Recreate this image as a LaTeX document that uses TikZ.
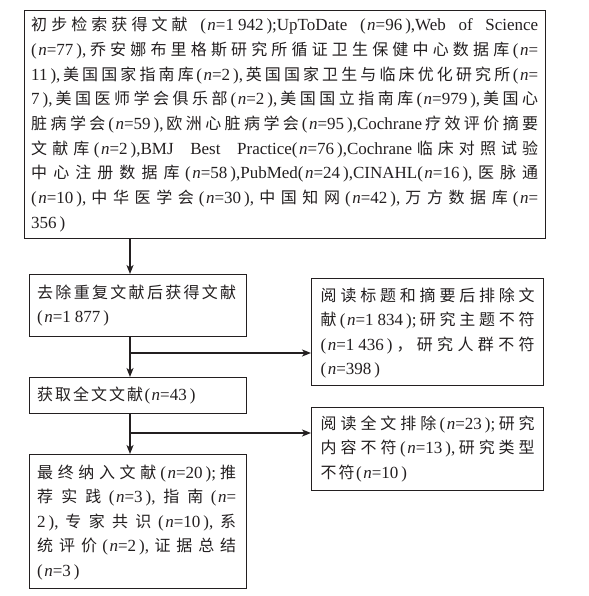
\documentclass[tikz,border=0pt]{standalone}
\usepackage{fontspec}
\setmainfont{Liberation Serif}
\newfontfamily\cjk[Scale=0.94]{Noto Sans CJK SC}
\usetikzlibrary{arrows.meta}
\definecolor{ink}{HTML}{231F20}
\XeTeXlinebreaklocale "zh"
\XeTeXlinebreakskip=2pt plus 1.5pt minus 0.5pt
\newcommand\C[1]{\hskip 1.5pt plus 1.5pt{\cjk #1}\hskip 1.5pt plus 1.5pt\relax}
\newcommand\Lp{(\kern1.5pt\textit{n}=}
\newcommand\Rp{\kern3pt)}
\newcommand\nv[1]{\Lp#1\Rp}
\newcommand\tbox[2]{\parbox[t]{#1}{\fontsize{17}{24.65}\selectfont\spaceskip=4.25pt plus 6pt minus 1pt\relax\tolerance=10000\hbadness=10000\relax #2}}
\tikzset{
  frame/.style={draw=ink, line width=1.4pt, rectangle, inner sep=0pt, anchor=north west},
  txt/.style={inner sep=0pt, anchor=base west, text=ink},
  arr/.style={draw=ink, line width=1.4pt, -{Stealth[length=9pt,width=7pt,inset=2.5pt]}}
}
\begin{document}
\begin{tikzpicture}[x=1pt,y=-1pt]
\useasboundingbox (0,0) rectangle (588,596);
% frames
\node[frame, minimum width=521.5pt, minimum height=228pt] (b1) at (23.5,10) {};
\node[frame, minimum width=217pt, minimum height=62pt] (b2) at (29,274) {};
\node[frame, minimum width=217pt, minimum height=36pt] (b3) at (29,377) {};
\node[frame, minimum width=217pt, minimum height=134pt] (b4) at (29,454) {};
\node[frame, minimum width=232pt, minimum height=107pt] (r1) at (311,278) {};
\node[frame, minimum width=232pt, minimum height=83pt] (r2) at (311,407) {};
% texts
\node[txt] (t1) at (31,31) {\tbox{507pt}{{\cjk 初步检索获得文献} \nv{1\kern4pt 942};UpToDate \nv{96},Web of Science\linebreak
\nv{77},\C{乔安娜布里格斯研究所循证卫生保健中心数据库}\Lp\linebreak
11\Rp,\C{美国国家指南库}\nv{2},\C{英国国家卫生与临床优化研究所}\Lp\linebreak
7\Rp,\C{美国医师学会俱乐部}\nv{2},\C{美国国立指南库}\nv{979},\C{美国心}\linebreak
\C{脏病学会}\nv{59},\C{欧洲心脏病学会}\nv{95},Cochrane\C{疗效评价摘要}\linebreak
\C{文献库}\nv{2},BMJ Best Practice\nv{76},Cochrane\C{临床对照试验}\linebreak
\C{中心注册数据库}\nv{58},PubMed\nv{24},CINAHL\nv{16},\C{医脉通}\linebreak
\nv{10},\C{中华医学会}\nv{30},\C{中国知网}\nv{42},\C{万方数据库}\Lp\linebreak
356\Rp}};
\node[txt] (t2) at (37,298) {\tbox{199pt}{{\cjk 去除重复文献后获得文献}\linebreak
\nv{1\kern4pt 877}}};
\node[txt] (t3) at (320.5,301) {\tbox{214pt}{{\cjk 阅读标题和摘要后排除文}\linebreak
\C{献}\nv{1\kern4pt 834};\C{研究主题不符}\linebreak
\nv{1\kern4pt 436}\C{，研究人群不符}\linebreak
\nv{398}}};
\node[txt] (t4) at (37,400) {\tbox{199pt}{{\cjk 获取全文文献}\hskip 1.5pt\nv{43}}};
\node[txt] (t5) at (320.5,429) {\tbox{214pt}{{\cjk 阅读全文排除}\hskip 1.5pt plus 1.5pt\nv{23};\C{研究}\linebreak
\C{内容不符}\nv{13},\C{研究类型}\linebreak
\C{不符}\nv{10}}};
\node[txt] (t6) at (37,478) {\tbox{199pt}{{\cjk 最终纳入文献}\hskip 1.5pt plus 1.5pt\nv{20};\C{推}\linebreak
\C{荐实践}\nv{3},\C{指南}\Lp\linebreak
2\Rp,\C{专家共识}\nv{10},\C{系}\linebreak
\C{统评价}\nv{2},\C{证据总结}\linebreak
\nv{3}}};
% connectors
\coordinate (spine) at (130,0);
\coordinate (j1) at (130,353);
\coordinate (j2) at (130,433);
\draw[arr] (b1.south -| spine) -- (b2.north -| spine);
\draw[arr] (b2.south -| spine) -- (b3.north -| spine);
\draw[arr] (b3.south -| spine) -- (b4.north -| spine);
\draw[arr] (j1) -- (j1 -| r1.west);
\draw[arr] (j2) -- (j2 -| r2.west);
\end{tikzpicture}
\end{document}
